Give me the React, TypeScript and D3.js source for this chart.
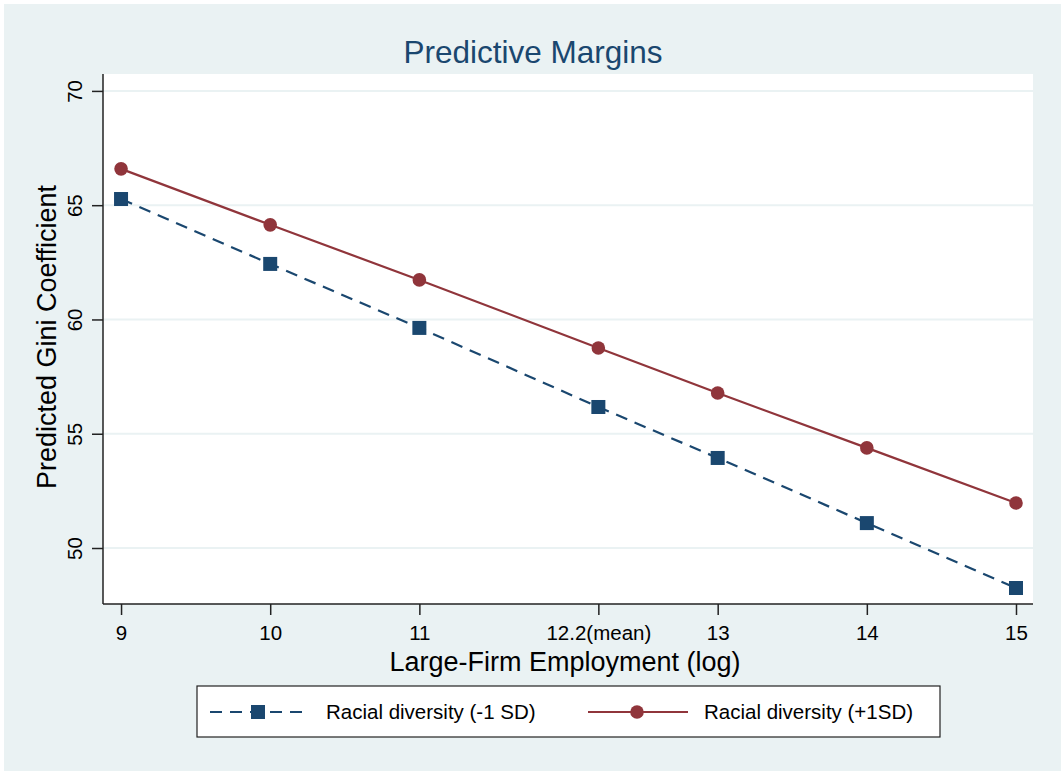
import React, { useRef, useEffect } from "react";
import * as d3 from "d3";

const xValues = [9, 10, 11, 12.2, 13, 14, 15];
const xTickLabels = ["9", "10", "11", "12.2(mean)", "13", "14", "15"];
const lowDiversity = [65.27, 62.43, 59.63, 56.17, 53.94, 51.09, 48.25];
const highDiversity = [66.59, 64.14, 61.73, 58.75, 56.78, 54.38, 51.97];
const yTicks = [50, 55, 60, 65, 70];
const seriesNames = ["Racial diversity (-1 SD)", "Racial diversity (+1SD)"];

const W = 1061;
const H = 771;
const navy = "#1a476f";
const maroon = "#90353b";
const bg = "#eaf2f3";
const font = "'Liberation Sans', Arial, sans-serif";

const App = () => {
  const svgRef = useRef<SVGSVGElement>(null);

  useEffect(() => {
    const svg = d3.select(svgRef.current);
    svg.selectAll("*").remove();

    const plot = { left: 103, right: 1033, top: 74, bottom: 604 };

    const x = d3.scaleLinear().domain([8.879, 15.114]).range([plot.left, plot.right]);
    const y = d3.scaleLinear().domain([47.55, 70.74]).range([plot.bottom, plot.top]);

    svg.append("rect").attr("x", 4).attr("y", 4).attr("width", W - 4).attr("height", H - 4).attr("fill", bg);
    svg.append("rect")
      .attr("x", plot.left).attr("y", plot.top)
      .attr("width", plot.right - plot.left).attr("height", plot.bottom - plot.top)
      .attr("fill", "white");

    // grid
    svg.append("g").selectAll("line").data(yTicks).join("line")
      .attr("x1", plot.left).attr("x2", plot.right)
      .attr("y1", d => y(d)).attr("y2", d => y(d))
      .attr("stroke", bg).attr("stroke-width", 2);

    // y axis
    const yAxis = svg.append("g")
      .attr("transform", `translate(${plot.left},0)`)
      .call(d3.axisLeft(y).tickValues(yTicks).tickSize(11).tickPadding(8).tickSizeOuter(0));
    yAxis.select(".domain").attr("stroke", "#222").attr("stroke-width", 1.5)
      .attr("d", `M0,${plot.top}V${plot.bottom}`);
    yAxis.selectAll(".tick line").attr("stroke", "#222").attr("stroke-width", 1.5);
    yAxis.selectAll(".tick text")
      .attr("font-family", font).attr("font-size", 20.5).attr("fill", "#000")
      .attr("text-anchor", "middle").attr("dy", "0").attr("x", 0)
      .attr("transform", "translate(-21,0) rotate(-90)");

    // x axis
    const xAxis = svg.append("g")
      .attr("transform", `translate(0,${plot.bottom})`)
      .call(d3.axisBottom(x).tickValues(xValues).tickFormat((_, i) => xTickLabels[i])
        .tickSize(11).tickPadding(10).tickSizeOuter(0));
    xAxis.select(".domain").attr("stroke", "#222").attr("stroke-width", 1.5)
      .attr("d", `M${plot.left},0H${plot.right}`);
    xAxis.selectAll(".tick line").attr("stroke", "#222").attr("stroke-width", 1.5);
    xAxis.selectAll(".tick text").attr("font-family", font).attr("font-size", 20.5).attr("fill", "#000");

    // lines
    const line = d3.line<number>().x((_, i) => x(xValues[i])).y(d => y(d));
    svg.append("path").datum(lowDiversity).attr("d", line).attr("fill", "none")
      .attr("stroke", navy).attr("stroke-width", 2.2).attr("stroke-dasharray", "12,8");
    svg.append("path").datum(highDiversity).attr("d", line).attr("fill", "none")
      .attr("stroke", maroon).attr("stroke-width", 2.2);

    svg.append("g").selectAll("rect").data(lowDiversity).join("rect")
      .attr("x", (d, i) => x(xValues[i]) - 7).attr("y", d => y(d) - 7)
      .attr("width", 14).attr("height", 14).attr("fill", navy);
    svg.append("g").selectAll("circle").data(highDiversity).join("circle")
      .attr("cx", (d, i) => x(xValues[i])).attr("cy", d => y(d))
      .attr("r", 6.8).attr("fill", maroon);

    // titles
    svg.append("text").attr("x", 533).attr("y", 63)
      .attr("text-anchor", "middle").attr("font-family", font).attr("font-size", 31.5)
      .attr("fill", navy).text("Predictive Margins");
    svg.append("text").attr("x", 565).attr("y", 671)
      .attr("text-anchor", "middle").attr("font-family", font).attr("font-size", 27)
      .attr("fill", "#000").text("Large-Firm Employment (log)");
    svg.append("text")
      .attr("transform", `translate(56,${(plot.top + plot.bottom) / 2 - 2}) rotate(-90)`)
      .attr("text-anchor", "middle").attr("font-family", font).attr("font-size", 27)
      .attr("fill", "#000").text("Predicted Gini Coefficient");

    // legend
    const lg = svg.append("g");
    lg.append("rect").attr("x", 197).attr("y", 686).attr("width", 743).attr("height", 51)
      .attr("fill", "white").attr("stroke", "#222").attr("stroke-width", 1.2);
    const ly = 712;
    lg.append("line").attr("x1", 210).attr("x2", 306).attr("y1", ly).attr("y2", ly)
      .attr("stroke", navy).attr("stroke-width", 2.2).attr("stroke-dasharray", "12,8");
    lg.append("rect").attr("x", 251).attr("y", ly - 7).attr("width", 14).attr("height", 14).attr("fill", navy);
    lg.append("text").attr("x", 326).attr("y", ly + 7).attr("font-family", font).attr("font-size", 20.5)
      .attr("fill", "#000").text(seriesNames[0]);
    lg.append("line").attr("x1", 588).attr("x2", 688).attr("y1", ly).attr("y2", ly)
      .attr("stroke", maroon).attr("stroke-width", 2.2);
    lg.append("circle").attr("cx", 637).attr("cy", ly).attr("r", 6.8).attr("fill", maroon);
    lg.append("text").attr("x", 704).attr("y", ly + 7).attr("font-family", font).attr("font-size", 20.5)
      .attr("fill", "#000").text(seriesNames[1]);
  }, []);

  return (
    <svg ref={svgRef} width={W} height={H}
      style={{ position: "absolute", left: 0, top: 0, display: "block" }} />
  );
};

export default App;
